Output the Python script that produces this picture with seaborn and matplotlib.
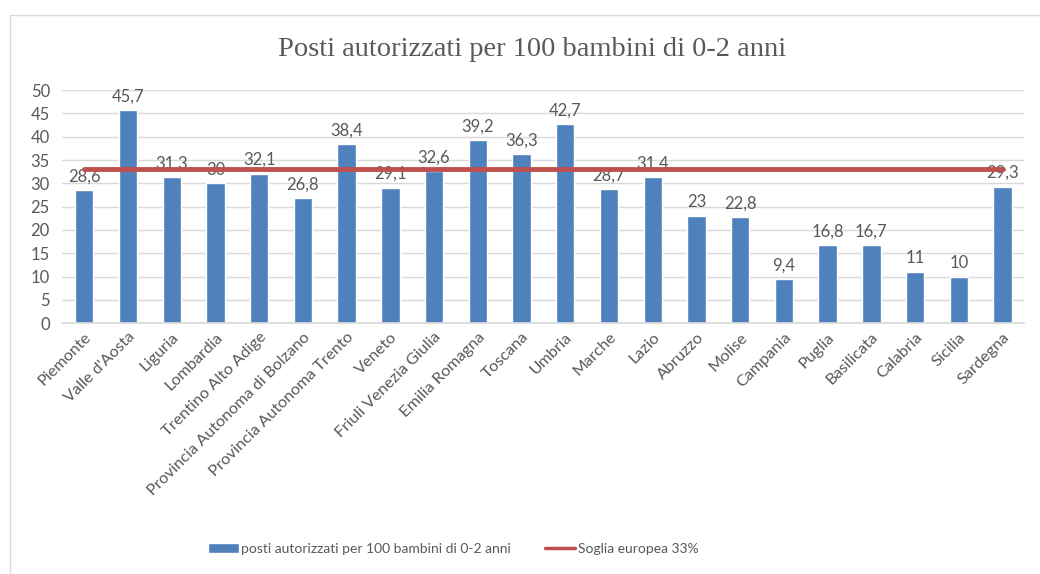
import matplotlib
matplotlib.use("Agg")
import matplotlib.pyplot as plt
from matplotlib.patches import Patch, Rectangle
from matplotlib.lines import Line2D
import seaborn as sns
import numpy as np
import pandas as pd

# data
regioni = ["Piemonte", "Valle d'Aosta", "Liguria", "Lombardia", "Trentino Alto Adige",
           "Provincia Autonoma di Bolzano", "Provincia Autonoma Trento", "Veneto",
           "Friuli Venezia Giulia", "Emilia Romagna", "Toscana", "Umbria", "Marche",
           "Lazio", "Abruzzo", "Molise", "Campania", "Puglia", "Basilicata",
           "Calabria", "Sicilia", "Sardegna"]
posti = [28.6, 45.7, 31.3, 30, 32.1, 26.8, 38.4, 29.1, 32.6, 39.2, 36.3, 42.7,
         28.7, 31.4, 23, 22.8, 9.4, 16.8, 16.7, 11, 10, 29.3]
soglia = [33] * len(regioni)

titolo = "Posti autorizzati per 100 bambini di 0-2 anni"
nome_barre = "posti autorizzati per 100 bambini di 0-2 anni"
nome_linea = "Soglia europea 33%"

blu = "#4f81bd"
rosso = "#c0504d"
grigio = "#595959"

sns.set_theme(style="white")
plt.rcParams["font.family"] = ["Lato", "DejaVu Sans"]

df = pd.DataFrame({"regione": regioni, "posti": posti})

fig = plt.figure(figsize=(10.4, 5.74), dpi=100)
ax = fig.add_axes([0.06, 0.437, 0.925, 0.406])

sns.barplot(data=df, x="regione", y="posti", color=blu, width=0.42,
            saturation=1, ax=ax, zorder=2)
sns.lineplot(x=np.arange(len(regioni)), y=soglia, color=rosso, lw=3.5,
             ax=ax, zorder=3)

for i, v in enumerate(posti):
    ax.annotate(f"{v:g}".replace(".", ","), (i, v), xytext=(0, 4),
                textcoords="offset points", ha="center", va="bottom",
                fontsize=12, color=grigio, zorder=1)

ax.set_xlim(-0.5, len(regioni) - 0.5)
ax.set_ylim(0, 50)
ax.set_yticks(range(0, 51, 5))
ax.yaxis.grid(True, color="#d9d9d9", lw=1)
ax.set_axisbelow(True)
for s in ["top", "right", "left"]:
    ax.spines[s].set_visible(False)
ax.spines["bottom"].set_color("#d9d9d9")
ax.set_xlabel("")
ax.set_ylabel("")
ax.tick_params(axis="y", colors=grigio, labelsize=12, length=0, pad=9)
ax.tick_params(axis="x", colors=grigio, labelsize=11.7, length=0, pad=5)
plt.setp(ax.get_xticklabels(), rotation=45, ha="right", rotation_mode="anchor")

fig.text(0.512, 0.913, titolo, ha="center", va="center", fontsize=20.5,
         color=grigio, family=["Liberation Serif", "DejaVu Serif"])

handles = [Patch(facecolor=blu, label=nome_barre),
           Line2D([0], [0], color=rosso, lw=2.5, label=nome_linea)]
fig.legend(handles=handles, loc="center left", bbox_to_anchor=(0.2, 0.0435),
           ncol=2, frameon=False, fontsize=10, labelcolor=grigio,
           handlelength=2.2, handletextpad=0.2, columnspacing=2.4,
           borderpad=0, borderaxespad=0)

fig.patches.append(Rectangle((0.0095, -0.05), 1.1, 1.024, transform=fig.transFigure,
                             fill=False, edgecolor="#d9d9d9", lw=1))

fig.savefig("out.png", dpi=100)
